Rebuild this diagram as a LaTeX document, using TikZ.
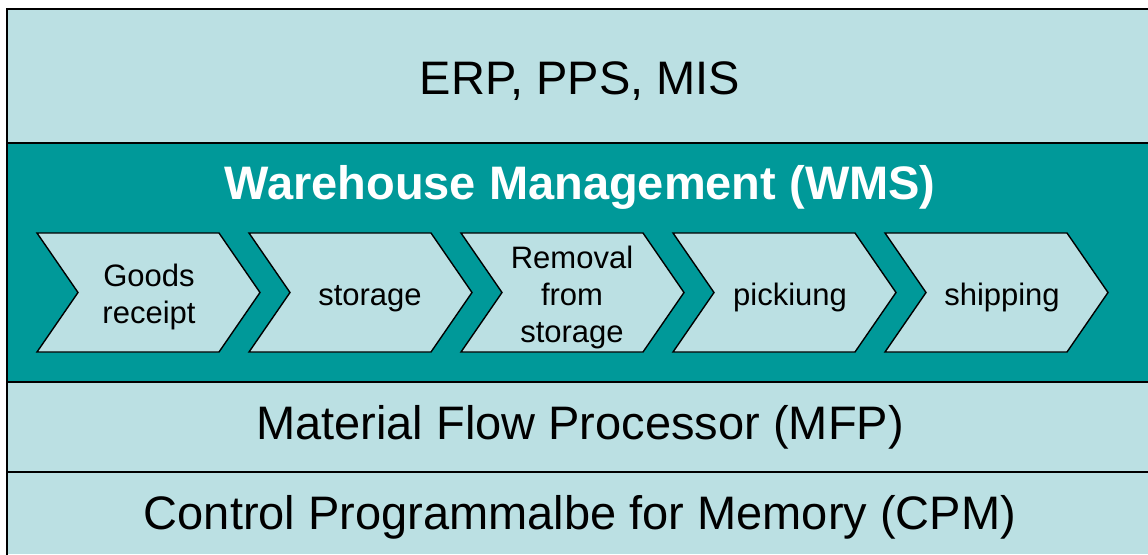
\documentclass[tikz,border=0pt]{standalone}
\usepackage{fontspec}
\setmainfont{Liberation Sans}
\definecolor{lightteal}{RGB}{187,224,227}
\definecolor{darkteal}{RGB}{0,153,153}
\begin{document}
\begin{tikzpicture}[x=1pt,y=-1pt,
  band/.style={fill=lightteal},
  bigtext/.style={font=\fontsize{47}{56}\selectfont, anchor=base, inner sep=0pt},
  titletext/.style={font=\fontsize{47}{56}\selectfont\bfseries, text=white, anchor=base, inner sep=0pt},
  chev/.style={fill=lightteal, draw=black, line width=1.4pt, line join=miter},
  chevtext/.style={font=\fontsize{31}{37}\selectfont, align=center, inner sep=0pt, anchor=center},
  chevline/.style={font=\fontsize{31}{37}\selectfont, inner sep=0pt, anchor=base},
  rule/.style={draw=black, line width=2pt}
]
\useasboundingbox (0,0) rectangle (1148,554);
% bands
\fill[band] (7,9) rectangle (1148,143);
\fill[darkteal] (7,143) rectangle (1148,382);
\fill[band] (7,382) rectangle (1148,472);
\fill[band] (7,472) rectangle (1148,554);
% rules
\draw[rule] (1149,9) -- (7,9) -- (7,555);
\draw[rule] (7,143) -- (1149,143);
\draw[rule] (7,382) -- (1149,382);
\draw[rule] (7,472) -- (1149,472);
% texts
\node[bigtext] (erp) at (580,94) {ERP, PPS, MIS};
\node[titletext] (wms) at (580,199) {Warehouse Management (WMS)};
\node[bigtext] (mfp) at (580,439) {Material Flow Processor (MFP)};
\node[bigtext] (cpm) at (580,529) {Control Programmalbe for Memory (CPM)};
% chevrons
\foreach \i in {0,...,4}{
  \pgfmathsetmacro{\xo}{37+212*\i}
  \draw[chev] (\xo,233) -- (\xo+182,233) -- (\xo+223,292.5) -- (\xo+182,352) -- (\xo,352) -- (\xo+41,292.5) -- cycle;
}
\node[chevtext] (c1) at (149,297) {Goods\\receipt};
\node[chevline] (c2) at (370,305) {storage};
\node[chevtext] (c3) at (572,297) {Removal\\from\\storage};
\node[chevline] (c4) at (790,305) {pickiung};
\node[chevline] (c5) at (1002,305) {shipping};
\end{tikzpicture}
\end{document}
